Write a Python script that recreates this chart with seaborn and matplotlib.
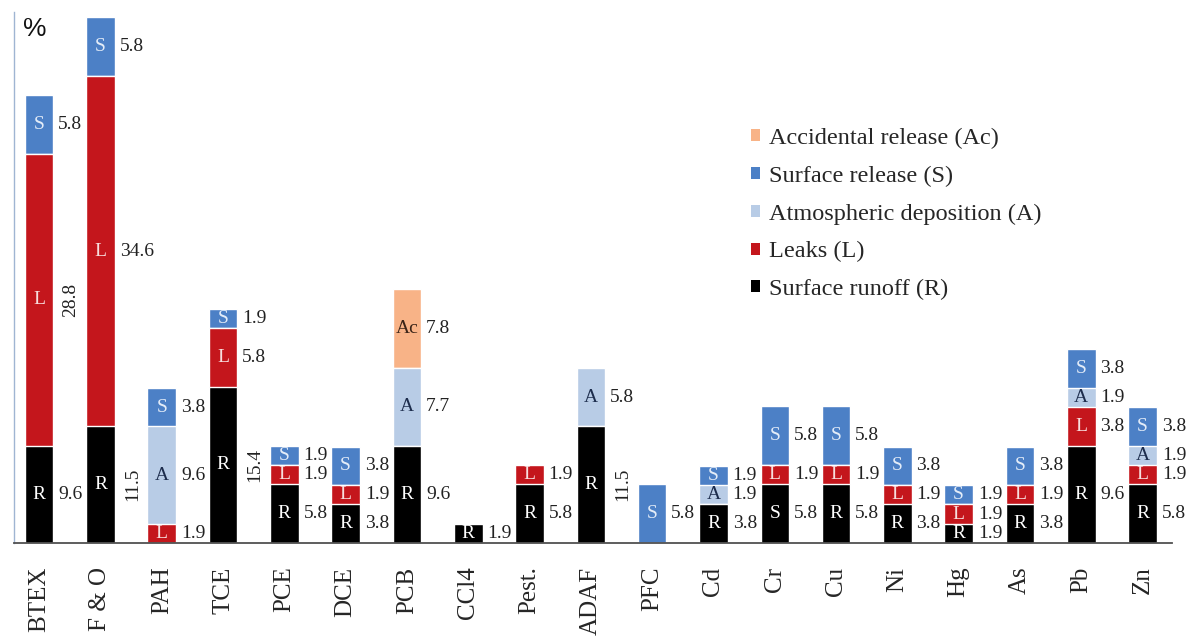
import numpy as np
import pandas as pd
import matplotlib
matplotlib.use("Agg")
import matplotlib.pyplot as plt
from matplotlib.patches import Patch
import seaborn as sns

categories = ['BTEX', 'F & O', 'PAH', 'TCE', 'PCE', 'DCE', 'PCB', 'CCl4', 'Pest.', 'ADAF',
              'PFC', 'Cd', 'Cr', 'Cu', 'Ni', 'Hg', 'As', 'Pb', 'Zn']

# stacked bottom -> top: R, L, A, S, Ac
runoff = [9.6, 11.5, 0, 15.4, 5.8, 3.8, 9.6, 1.9, 5.8, 11.5, 0, 3.8, 5.8, 5.8, 3.8, 1.9, 3.8, 9.6, 5.8]
leaks = [28.8, 34.6, 1.9, 5.8, 1.9, 1.9, 0, 0, 1.9, 0, 0, 0, 1.9, 1.9, 1.9, 1.9, 1.9, 3.8, 1.9]
atmospheric = [0, 0, 9.6, 0, 0, 0, 7.7, 0, 0, 5.8, 0, 1.9, 0, 0, 0, 0, 0, 1.9, 1.9]
surface = [5.8, 5.8, 3.8, 1.9, 1.9, 3.8, 0, 0, 0, 0, 5.8, 1.9, 5.8, 5.8, 3.8, 1.9, 3.8, 3.8, 3.8]
accidental = [0, 0, 0, 0, 0, 0, 7.8, 0, 0, 0, 0, 0, 0, 0, 0, 0, 0, 0, 0]

sources = ['R', 'L', 'A', 'S', 'Ac']
legend_names = {'Ac': 'Accidental release (Ac)', 'S': 'Surface release (S)',
                'A': 'Atmospheric deposition (A)', 'L': 'Leaks (L)', 'R': 'Surface runoff (R)'}
colors = {'R': '#000000', 'L': '#C4161C', 'A': '#B8CCE6', 'S': '#4C80C6', 'Ac': '#F8B387'}
letter_colors = {'R': 'white', 'L': '#f7dede', 'A': '#1c2c4c', 'S': '#e3ecf8', 'Ac': '#3a2418'}

# labels drawn vertically in the gap next to the bar
rotated = {('BTEX', 'L'), ('F & O', 'R'), ('TCE', 'R'), ('ADAF', 'R')}
# the original marks the Cr runoff segment with "S"
letter_override = {('Cr', 'R'): 'S'}

df = pd.DataFrame({
    'category': np.repeat(categories, len(sources)),
    'source': sources * len(categories),
    'value': np.column_stack([runoff, leaks, atmospheric, surface, accidental]).ravel(),
})
df['top'] = df.groupby('category', sort=False)['value'].cumsum()
df['mid'] = df['top'] - df['value'] / 2
df['pos'] = df['category'].map({c: i for i, c in enumerate(categories)})

sns.set_style('white')
serif = ['Liberation Serif', 'DejaVu Serif']
plt.rcParams['font.family'] = serif

fig = plt.figure(figsize=(11.9, 6.41), dpi=100)
ax = fig.add_axes([14 / 1190, 1 - 543 / 641, (1172 - 14) / 1190, (543 - 12) / 641])

bar_w = 0.465
for s in reversed(sources):
    sub = df[df['source'] == s]
    sns.barplot(data=sub, x='category', y='top', order=categories, color=colors[s],
                saturation=1, width=bar_w, edgecolor='white', linewidth=1, ax=ax)

for _, row in df[df['value'] > 0].iterrows():
    key = (row['category'], row['source'])
    letter = letter_override.get(key, row['source'])
    ax.text(row['pos'], row['mid'], letter, ha='center', va='center',
            fontsize=14, color=letter_colors[row['source']])
    if key in rotated:
        ax.text(row['pos'] + 0.52, row['mid'], f"{row['value']:.1f}", rotation=90,
                ha='center', va='center', fontsize=14, color='#222222')
    else:
        ax.text(row['pos'] + bar_w / 2 + 0.08, row['mid'], f"{row['value']:.1f}",
                ha='left', va='center', fontsize=14, color='#222222')

ax.set_xlim(-0.41, 18.48)
ax.set_ylim(0, 52.4)
ax.set_xlabel('')
ax.set_ylabel('')
ax.set_yticks([])
ax.tick_params(axis='x', length=0, pad=17, labelsize=18, labelrotation=90)
sns.despine(ax=ax, top=True, right=True)
ax.spines['left'].set_color('#9fb5d2')
ax.spines['left'].set_linewidth(1)
ax.spines['bottom'].set_color('#505050')
ax.spines['bottom'].set_linewidth(1.3)

fig.text(23 / 1190, 1 - 17 / 641, '%', ha='left', va='top', fontsize=19,
         family=['Liberation Sans', 'DejaVu Sans'], color='#111111')

handles = [Patch(facecolor=colors[s], edgecolor='none', label=legend_names[s])
           for s in ['Ac', 'S', 'A', 'L', 'R']]
fig.legend(handles=handles, loc='upper left', bbox_to_anchor=(751 / 1190, 1 - 128 / 641),
           frameon=False, fontsize=17.5, handlelength=0.38, handleheight=0.38,
           handletextpad=0.35, labelspacing=0.68, borderpad=0, borderaxespad=0)

fig.savefig('out.png', dpi=100)
